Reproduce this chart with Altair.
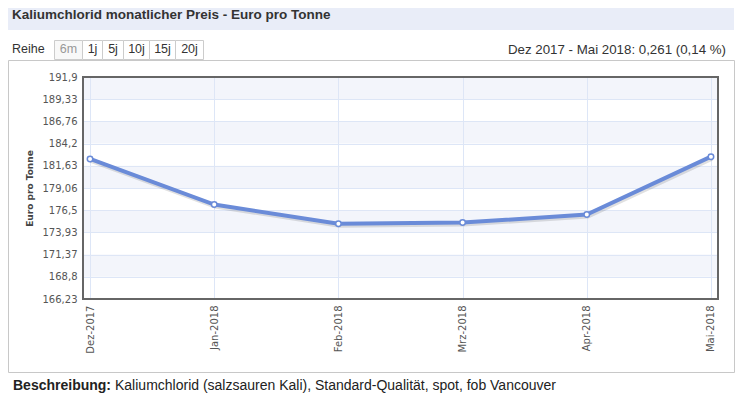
import altair as alt
import pandas as pd

# ---- data ----
months = ["Dez-2017", "Jan-2018", "Feb-2018", "Mrz-2018", "Apr-2018", "Mai-2018"]
prices = [182.43, 177.15, 174.92, 175.07, 175.99, 182.69]
y_ticks = [166.23, 168.8, 171.37, 173.93, 176.5, 179.06, 181.63, 184.2, 186.76, 189.33, 191.9]
buttons = ["6m", "1j", "5j", "10j", "15j", "20j"]
title_text = "Kaliumchlorid monatlicher Preis - Euro pro Tonne"
range_text = "Dez 2017 - Mai 2018: 0,261 (0,14 %)"
desc_bold = "Beschreibung:"
desc_text = "Kaliumchlorid (salzsauren Kali), Standard-Qualität, spot, fob Vancouver"

df = pd.DataFrame({"month": months, "price": prices})
bands = pd.DataFrame({
    "lo": [y_ticks[i] for i in range(1, len(y_ticks) - 1, 2)],
    "hi": [y_ticks[i + 1] for i in range(1, len(y_ticks) - 1, 2)],
})
one = pd.DataFrame({"a": [0]})

W, H = 635, 222
LINE = "#6a8bd8"
AX_FONT = "DejaVu Sans"
UI_FONT = "Liberation Sans"

yscale = alt.Scale(domain=[y_ticks[0], y_ticks[-1]], nice=False, zero=False)
xscale = alt.Scale(type="point", padding=0.0566)

yaxis = alt.Axis(values=y_ticks, title="Euro pro Tonne",
                 labelExpr="replace(toString(datum.value), '.', ',')",
                 ticks=False, domain=False, grid=True, gridColor="#dde6f7",
                 labelFont=AX_FONT, labelFontSize=10, labelColor="#555555",
                 labelPadding=6, titleFont=AX_FONT, titleFontSize=9,
                 titleFontWeight="bold", titleColor="#444444", titlePadding=8)

x_enc = alt.X("month:N", sort=months, scale=xscale,
              axis=alt.Axis(title=None, labelAngle=270, labelPadding=6, ticks=False,
                            domain=False, grid=True, gridColor="#dde6f7",
                            labelFont=AX_FONT, labelFontSize=10, labelColor="#555555"))
y_enc = alt.Y("price:Q", scale=yscale, axis=yaxis)

band_layer = alt.Chart(bands).mark_rect(color="#e2e6f5", opacity=0.4).encode(
    x=alt.value(0), x2=alt.value(W),
    y=alt.Y("lo:Q", scale=yscale, axis=yaxis), y2="hi:Q")

shadow = alt.Chart(df).mark_line(color="#000000", opacity=0.12, strokeWidth=5,
                                 xOffset=1, yOffset=1.5).encode(x=x_enc, y=y_enc)
line = alt.Chart(df).mark_line(color=LINE, strokeWidth=4).encode(x=x_enc, y=y_enc)
points = alt.Chart(df).mark_point(shape="circle", filled=True, fill="white", stroke=LINE,
                                  strokeWidth=1.5, size=30, opacity=1).encode(x=x_enc, y=y_enc)

frame = alt.Chart(one).mark_rect(fillOpacity=0, stroke="#666666", strokeWidth=2).encode(
    x=alt.value(0), x2=alt.value(W), y=alt.value(0), y2=alt.value(H))

# ---- page decorations (pixel positions relative to plot origin) ----
deco = []
deco.append(alt.Chart(one).mark_rect(color="#e9edf8").encode(
    x=alt.value(-75), x2=alt.value(651), y=alt.value(-69), y2=alt.value(-47)))
deco.append(alt.Chart(one).mark_text(align="left", baseline="middle", font=UI_FONT, fontSize=13.5,
                                     fontWeight="bold", color="#333333").encode(
    x=alt.value(-71), y=alt.value(-62), text=alt.value(title_text)))
deco.append(alt.Chart(one).mark_rect(fillOpacity=0, stroke="#c8c8c8", strokeWidth=1).encode(
    x=alt.value(-74.5), x2=alt.value(651.5), y=alt.value(-16.5), y2=alt.value(295.5)))
deco.append(alt.Chart(one).mark_text(align="left", baseline="middle", font=UI_FONT, fontSize=12.5,
                                     color="#333333").encode(
    x=alt.value(-71), y=alt.value(-28), text=alt.value("Reihe")))
edges = [54, 82, 102, 123, 149, 175, 203]
for i, lab in enumerate(buttons):
    x0, x1 = edges[i] - 83 + 0.5, edges[i + 1] - 83 + 0.5
    deco.append(alt.Chart(one).mark_rect(fill="#f8f8f8" if i == 0 else "#ffffff",
                                         stroke="#cccccc", strokeWidth=1).encode(
        x=alt.value(x0), x2=alt.value(x1), y=alt.value(-36.5), y2=alt.value(-17.5)))
    deco.append(alt.Chart(one).mark_text(align="center", baseline="middle", font=UI_FONT,
                                         fontSize=12.5,
                                         color="#999999" if i == 0 else "#333333").encode(
        x=alt.value((x0 + x1) / 2), y=alt.value(-28), text=alt.value(lab)))
deco.append(alt.Chart(one).mark_text(align="right", baseline="middle", font=UI_FONT, fontSize=13.3,
                                     color="#333333").encode(
    x=alt.value(643), y=alt.value(-27), text=alt.value(range_text)))
deco.append(alt.Chart(one).mark_text(align="left", baseline="middle", font=UI_FONT, fontSize=14,
                                     fontWeight="bold", color="#222222").encode(
    x=alt.value(-70), y=alt.value(309), text=alt.value(desc_bold)))
deco.append(alt.Chart(one).mark_text(align="left", baseline="middle", font=UI_FONT, fontSize=14,
                                     color="#222222").encode(
    x=alt.value(32), y=alt.value(309), text=alt.value(desc_text)))

chart = alt.layer(band_layer, shadow, line, points, frame, *deco).properties(
    width=W, height=H,
    autosize=alt.AutoSizeParams(type="none"),
    padding={"left": 75, "top": 69, "right": 17, "bottom": 98},
    background="white",
).configure_view(strokeWidth=0)

chart.save("out.html", embed_options={"renderer": "svg", "actions": False})
